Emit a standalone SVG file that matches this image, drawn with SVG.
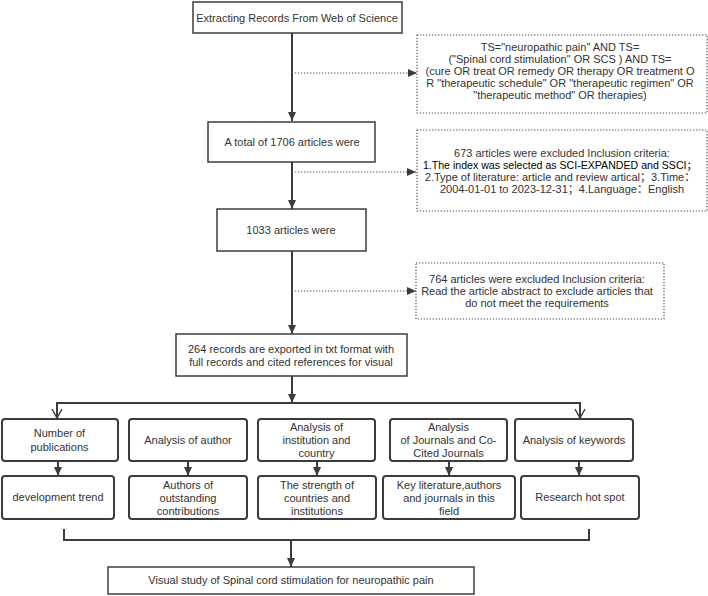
<svg xmlns="http://www.w3.org/2000/svg" width="708" height="596" viewBox="0 0 708 596">
<defs>
<style>
.box{fill:#fff;stroke:#3c3c3c;stroke-width:1.5}
.rbox{fill:#fff;stroke:#3c3c3c;stroke-width:2}
.dbox{fill:#fff;stroke:#555;stroke-width:1.2;stroke-dasharray:1.3 1.7}
.t{font-family:"Liberation Sans","Noto Sans CJK SC",sans-serif;font-size:11px;fill:#333;text-anchor:middle}
.b{fill:#000;font-size:10.6px}
.ln{stroke:#3c3c3c;stroke-width:2;fill:none}
.dl{stroke:#555;stroke-width:1.2;stroke-dasharray:1.3 1.7;fill:none}
</style>
<marker id="ah" markerUnits="userSpaceOnUse" markerWidth="10" markerHeight="8" refX="9" refY="4" orient="auto">
<path d="M0,0 L9,4 L0,8 z" fill="#3c3c3c"/>
</marker>
<marker id="ov" markerUnits="userSpaceOnUse" markerWidth="12" markerHeight="12" refX="10" refY="6" orient="auto">
<path d="M1,1 L10,6 L1,11" fill="none" stroke="#3c3c3c" stroke-width="1.5"/>
</marker>
</defs>

<g id="connectors">
<path class="ln" d="M292,33 V121" marker-end="url(#ah)"/>
<path class="dl" d="M292,73 H417" marker-end="url(#ah)"/>
<path class="ln" d="M292,162 V209" marker-end="url(#ah)"/>
<path class="dl" d="M292,172 H416" marker-end="url(#ah)"/>
<path class="ln" d="M292,251 V334" marker-end="url(#ah)"/>
<path class="dl" d="M292,291 H416" marker-end="url(#ah)"/>
<path class="ln" d="M292,376 V403"  marker-end="url(#ah)"/>
<path class="ln" d="M292,403 H57 V418" marker-end="url(#ov)"/>
<path class="ln" d="M292,403 H580 V418" marker-end="url(#ov)"/>
<path class="ln" d="M58,461 V476" marker-end="url(#ah)"/>
<path class="ln" d="M188,461 V476" marker-end="url(#ah)"/>
<path class="ln" d="M317,461 V476" marker-end="url(#ah)"/>
<path class="ln" d="M449,461 V476" marker-end="url(#ah)"/>
<path class="ln" d="M579,461 V476" marker-end="url(#ah)"/>
<path class="ln" d="M64,529 V540 H589 V529"/>
<path class="ln" d="M291,540 V567" marker-end="url(#ah)"/>
</g>

<g id="n-extract">
<rect class="box" x="193" y="2" width="209" height="31"/>
<text class="t" x="297" y="22">Extracting Records From Web of Science</text>
</g>

<g id="n-query">
<rect class="dbox" x="417" y="35" width="290" height="78"/>
<text class="t" x="560" y="51">TS="neuropathic pain" AND TS=</text>
<text class="t" x="560" y="63">("Spinal cord stimulation" OR SCS ) AND TS=</text>
<text class="t" x="560" y="75">(cure OR treat OR remedy OR therapy OR treatment O</text>
<text class="t" x="560" y="87">R "therapeutic schedule" OR "therapeutic regimen" OR</text>
<text class="t" x="560" y="99">"therapeutic method" OR therapies)</text>
</g>

<g id="n-total">
<rect class="box" x="208" y="122" width="167" height="40"/>
<text class="t" x="292" y="146">A total of 1706 articles were</text>
</g>

<g id="n-excl1">
<rect class="dbox" x="417" y="130" width="290" height="81"/>
<text class="t" x="562" y="157">673 articles were excluded Inclusion criteria:</text>
<text class="t b" x="560" y="169">1.The index was selected as SCI-EXPANDED and SSCI；</text>
<text class="t" x="560" y="181">2.Type of literature: article and review artical；3.Time：</text>
<text class="t" x="562" y="193">2004-01-01 to 2023-12-31；4.Language：English</text>
</g>

<g id="n-1033">
<rect class="box" x="217" y="209" width="149" height="42"/>
<text class="t" x="291" y="234">1033 articles were</text>
</g>

<g id="n-excl2">
<rect class="dbox" x="416" y="263" width="248" height="56"/>
<text class="t" x="537" y="283">764 articles were excluded Inclusion criteria:</text>
<text class="t" x="537" y="295">Read the article abstract to exclude articles that</text>
<text class="t" x="537" y="307">do not meet the requirements</text>
</g>

<g id="n-264">
<rect class="box" x="176" y="334" width="231" height="42"/>
<text class="t" x="291" y="353">264 records are exported in txt format with</text>
<text class="t" x="291" y="366">full records and cited references for visual</text>
</g>

<g id="n-a1">
<rect class="rbox" x="2" y="419" width="116" height="42" rx="3"/>
<text class="t" x="59.5" y="437">Number of</text>
<text class="t" x="59.5" y="451">publications</text>
</g>
<g id="n-a2">
<rect class="rbox" x="129" y="419" width="118" height="42" rx="3"/>
<text class="t" x="188" y="444">Analysis of author</text>
</g>
<g id="n-a3">
<rect class="rbox" x="258" y="419" width="117" height="42" rx="3"/>
<text class="t" x="316.5" y="431">Analysis of</text>
<text class="t" x="316.5" y="444">institution and</text>
<text class="t" x="316.5" y="457">country</text>
</g>
<g id="n-a4">
<rect class="rbox" x="390" y="419" width="117" height="42" rx="3"/>
<text class="t" x="448.5" y="431">Analysis</text>
<text class="t" x="448.5" y="444">of Journals and Co-</text>
<text class="t" x="448.5" y="457">Cited Journals</text>
</g>
<g id="n-a5">
<rect class="rbox" x="515" y="419" width="118" height="42" rx="3"/>
<text class="t" x="574" y="444">Analysis of keywords</text>
</g>

<g id="n-r1">
<rect class="rbox" x="2" y="476" width="112" height="43" rx="3"/>
<text class="t" x="58" y="501">development trend</text>
</g>
<g id="n-r2">
<rect class="rbox" x="129" y="476" width="118" height="43" rx="3"/>
<text class="t" x="188" y="489">Authors of</text>
<text class="t" x="188" y="502">outstanding</text>
<text class="t" x="188" y="515">contributions</text>
</g>
<g id="n-r3">
<rect class="rbox" x="258" y="476" width="118" height="43" rx="3"/>
<text class="t" x="317" y="489">The strength of</text>
<text class="t" x="317" y="502">countries and</text>
<text class="t" x="317" y="515">institutions</text>
</g>
<g id="n-r4">
<rect class="rbox" x="383" y="476" width="132" height="43" rx="3"/>
<text class="t" x="449" y="489">Key literature,authors</text>
<text class="t" x="449" y="502">and journals in this</text>
<text class="t" x="449" y="515">field</text>
</g>
<g id="n-r5">
<rect class="rbox" x="521" y="476" width="118" height="43" rx="3"/>
<text class="t" x="580" y="501">Research hot spot</text>
</g>

<g id="n-final">
<rect class="box" x="108" y="567" width="366" height="27"/>
<text class="t" x="291" y="584">Visual study of Spinal cord stimulation for neuropathic pain</text>
</g>
</svg>
